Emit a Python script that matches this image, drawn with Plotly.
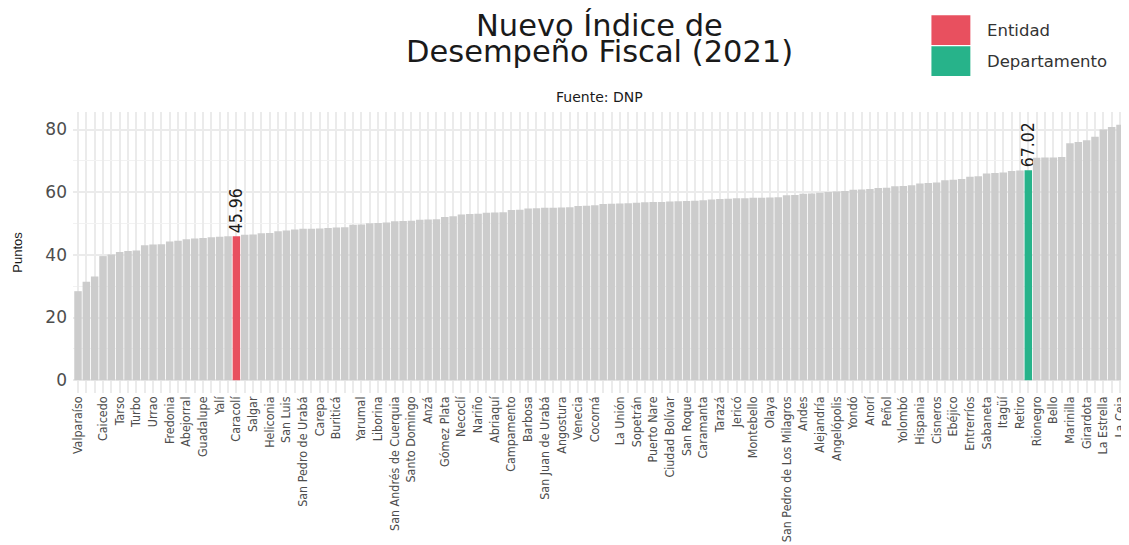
import plotly.graph_objects as go

# Nuevo Índice de Desempeño Fiscal 2021 - municipios de Antioquia y el departamento,
# ordenados de menor a mayor (126 barras)
valores = [
    28.4, 31.4, 33.1, 39.6, 40.1, 40.9, 41.2, 41.4, 43.1, 43.3,
    43.4, 44.3, 44.5, 45.0, 45.2, 45.4, 45.6, 45.8, 45.9, 45.96,
    46.4, 46.5, 46.9, 47.0, 47.5, 47.8, 48.1, 48.3, 48.3, 48.4,
    48.6, 48.7, 48.8, 49.6, 49.7, 50.1, 50.2, 50.3, 50.7, 50.8,
    50.9, 51.2, 51.3, 51.4, 52.1, 52.3, 52.9, 53.0, 53.1, 53.4,
    53.5, 53.6, 54.3, 54.4, 54.8, 54.9, 55.0, 55.0, 55.1, 55.2,
    55.6, 55.7, 55.8, 56.2, 56.3, 56.4, 56.5, 56.6, 56.8, 56.9,
    56.9, 57.0, 57.1, 57.2, 57.3, 57.4, 57.7, 57.8, 57.9, 58.1,
    58.1, 58.2, 58.2, 58.3, 58.4, 59.0, 59.1, 59.5, 59.6, 59.8,
    60.1, 60.2, 60.4, 60.8, 60.9, 61.0, 61.3, 61.4, 61.9, 62.0,
    62.2, 62.8, 62.9, 63.1, 63.8, 64.0, 64.2, 64.9, 65.1, 66.0,
    66.1, 66.3, 66.8, 66.9, 67.02, 71.0, 71.1, 71.1, 71.2, 75.6,
    76.0, 76.6, 77.7, 80.0, 80.8, 81.5,
]

# nombres que alcanzan a verse en el eje x (los demás se omiten por solaparse)
municipios = [
    "Valparaíso", "Caicedo", "Tarso", "Turbo", "Urrao", "Fredonia", "Abejorral",
    "Guadalupe", "Yalí", "Caracolí", "Salgar", "Heliconia", "San Luis",
    "San Pedro de Urabá", "Carepa", "Buriticá", "Yarumal", "Liborina",
    "San Andrés de Cuerquia", "Santo Domingo", "Anzá", "Gómez Plata", "Necoclí",
    "Nariño", "Abriaquí", "Campamento", "Barbosa", "San Juan de Urabá", "Angostura",
    "Venecia", "Cocorná", "La Unión", "Sopetrán", "Puerto Nare", "Ciudad Bolívar",
    "San Roque", "Caramanta", "Tarazá", "Jericó", "Montebello", "Olaya",
    "San Pedro de Los Milagros", "Andes", "Alejandría", "Angelópolis", "Yondó",
    "Anorí", "Peñol", "Yolombó", "Hispania", "Cisneros", "Ebéjico", "Entrerríos",
    "Sabaneta", "Itagüí", "Retiro", "Rionegro", "Bello", "Marinilla", "Girardota",
    "La Estrella", "La Ceja",
]
pos_municipios = (
    [0]
    + list(range(3, 32, 2))
    + list(range(34, 63, 2))
    + list(range(65, 94, 2))
    + list(range(95, 126, 2))
)

idx_entidad = 19        # Caracolí
idx_departamento = 114  # Antioquia

GRIS = "#cccccc"
ROJO = "#e8505f"
VERDE = "#27b38a"
FUENTE_ESTRECHA = "DejaVu Sans Condensed, Liberation Sans, sans-serif"

n = len(valores)
x = list(range(n))
colores = [GRIS] * n
colores[idx_entidad] = ROJO
colores[idx_departamento] = VERDE
textos = [""] * n
for i in (idx_entidad, idx_departamento):
    textos[i] = f"{valores[i]:.2f}"

fig = go.Figure()
fig.add_trace(go.Bar(
    x=x, y=valores, width=0.9,
    marker=dict(color=colores, line=dict(width=0)),
    text=textos, textposition="outside", textangle=-90,
    constraintext="none", cliponaxis=False,
    textfont=dict(family=FUENTE_ESTRECHA, size=17.5, color="#1a1a1a"),
    showlegend=False,
))

# leyenda (cuadros grandes como en ggplot)
leyenda = [("Entidad", ROJO), ("Departamento", VERDE)]
for k, (nombre, color) in enumerate(leyenda):
    y1 = 1.344 - k * 0.110
    fig.add_shape(type="rect", xref="paper", yref="paper",
                  x0=0.816, x1=0.853, y0=y1 - 0.106, y1=y1,
                  fillcolor=color, line=dict(width=0))
    fig.add_annotation(xref="paper", yref="paper", x=0.867, y=y1 - 0.053,
                       text=nombre, showarrow=False, xanchor="left", yanchor="middle",
                       font=dict(family="DejaVu Sans", size=16.5, color="#333333"))

# título en dos líneas, interlineado apretado
for k, linea in enumerate(["Nuevo Índice de", "Desempeño Fiscal (2021)"]):
    fig.add_annotation(xref="paper", yref="paper", x=0.5, y=1.307 - k * 0.092,
                       text=linea, showarrow=False, xanchor="center", yanchor="middle",
                       font=dict(family="DejaVu Sans", size=30.5, color="#1a1a1a"))

fig.add_annotation(xref="paper", yref="paper", x=0.5, y=1.055, text="Fuente: DNP",
                   showarrow=False, xanchor="center", yanchor="middle",
                   font=dict(family="DejaVu Sans", size=14, color="#1a1a1a"))

# la página deja 8 px de margen arriba y a la izquierda
fig.update_layout(
    width=1121, height=537,
    margin=dict(l=65, r=4, t=104, b=152),
    paper_bgcolor="white", plot_bgcolor="white",
    xaxis=dict(range=[-0.6, n - 0.4], tickmode="array", automargin=False,
               tickvals=pos_municipios, ticktext=municipios, tickangle=-90,
               ticklabeloverflow="allow",
               tickfont=dict(family=FUENTE_ESTRECHA, size=12.4, color="#4d4d4d"),
               showgrid=True, gridcolor="#ebebeb", gridwidth=1.6,
               minor=dict(tick0=0, dtick=1, showgrid=True, gridcolor="#ebebeb", gridwidth=1.6),
               zeroline=False, showline=False, ticks=""),
    yaxis=dict(range=[-4.1, 85.6], tickvals=[0, 20, 40, 60, 80], automargin=False,
               tickfont=dict(family="DejaVu Sans", size=17, color="#4d4d4d"),
               ticklabelstandoff=5, ticklen=0,
               showgrid=True, gridcolor="#ebebeb", gridwidth=1.6,
               minor=dict(tick0=0, dtick=10, showgrid=True, gridcolor="#f2f2f2", gridwidth=1),
               zeroline=False, showline=False, ticks=""),
)
fig.update_yaxes(title=dict(text="Puntos", standoff=19,
                            font=dict(family="Liberation Sans", size=13, color="#1a1a1a")))

fig.write_html("out.html")
